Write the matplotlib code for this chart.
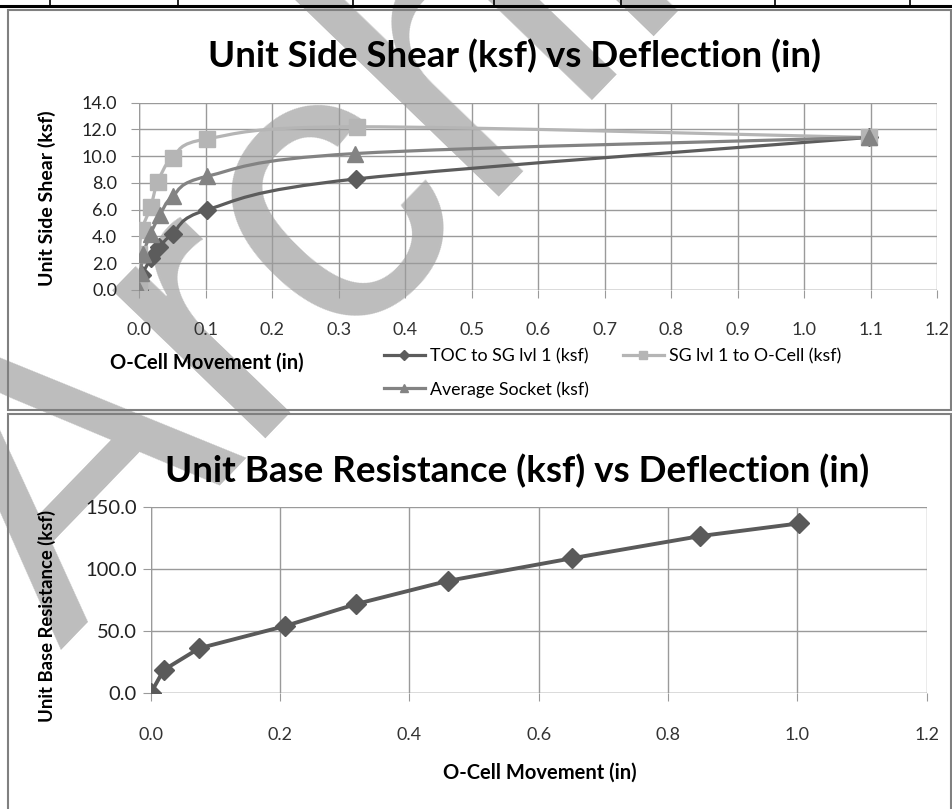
import numpy as np
import matplotlib
matplotlib.use("Agg")
import matplotlib.pyplot as plt
from matplotlib.path import Path
from matplotlib.patches import PathPatch, Rectangle
from matplotlib.lines import Line2D

# --- data --------------------------------------------------------------
toc_x = [0.0, 0.004, 0.018, 0.030, 0.050, 0.102, 0.326, 1.097]
toc_y = [0.0, 1.1, 2.4, 3.2, 4.2, 6.0, 8.3, 11.4]

sg_x = [0.0, 0.0, 0.004, 0.017, 0.028, 0.050, 0.102, 0.328, 1.097]
sg_y = [0.0, 2.7, 4.5, 6.2, 8.1, 9.9, 11.3, 12.2, 11.4]

avg_x = [0.0, 0.002, 0.006, 0.017, 0.031, 0.050, 0.102, 0.325, 1.097]
avg_y = [0.0, 1.3, 2.7, 4.2, 5.6, 7.0, 8.5, 10.2, 11.4]

base_x = [0.0, 0.020, 0.075, 0.208, 0.318, 0.459, 0.651, 0.850, 1.003]
base_y = [0.0, 18.7, 36.2, 54.1, 71.8, 90.3, 108.5, 126.4, 136.6]

top_title = "Unit Side Shear (ksf) vs Deflection (in)"
bot_title = "Unit Base Resistance (ksf) vs Deflection (in)"
xlabel = "O-Cell Movement (in)"
top_ylabel = "Unit Side Shear (ksf)"
bot_ylabel = "Unit Base Resistance (ksf)"
series_names = ["TOC to SG lvl 1 (ksf)", "SG lvl 1 to O-Cell (ksf)", "Average Socket (ksf)"]

W, H = 953, 809
FONT = "Lato"
NARROW = ["Liberation Sans Narrow", "Lato"]


def fx(px):
    return px / W


def fy(py):
    return 1 - py / H


def smooth_path(xs, ys):
    # Excel style smoothed line (Catmull-Rom -> Bezier)
    p = np.column_stack([xs, ys]).astype(float)
    n = len(p)
    verts = [p[0]]
    codes = [Path.MOVETO]
    for i in range(n - 1):
        p0 = p[max(i - 1, 0)]
        p1 = p[i]
        p2 = p[i + 1]
        p3 = p[min(i + 2, n - 1)]
        verts += [p1 + (p2 - p0) / 6, p2 - (p3 - p1) / 6, p2]
        codes += [Path.CURVE4] * 3
    return Path(verts, codes)


fig = plt.figure(figsize=(W / 100, H / 100), dpi=100)

# watermark, behind everything
fig.text(fx(60), fy(650), "Archive", rotation=46, rotation_mode="anchor",
         fontsize=290, family="Liberation Sans", color="#bdbdbd",
         ha="left", va="baseline", zorder=-10)

# table remnants / frames
fig.add_artist(Line2D([0, 1], [fy(5.5), fy(5.5)], color="black", lw=2.2))
for vx in [50, 178, 353, 494, 621, 775, 910]:
    fig.add_artist(Line2D([fx(vx), fx(vx)], [fy(0), fy(5)], color="black", lw=1.2))
fig.add_artist(Rectangle((fx(8), fy(410)), fx(943), 400 / H, fill=False,
                         edgecolor="#808080", lw=1.5))
fig.add_artist(Rectangle((fx(8), fy(812)), fx(943), 398 / H, fill=False,
                         edgecolor="#808080", lw=1.5))

grid_kw = dict(color="#9a9a9a", linewidth=1.0)

# ---------------- top chart ----------------
ax1 = fig.add_axes([fx(139.3), fy(290), fx(937) - fx(139.3), (290 - 102.7) / H])
ax1.patch.set_alpha(0)
styles = [
    (toc_x, toc_y, "#5c5c5c", "D", 9.5),
    (sg_x, sg_y, "#b5b5b5", "s", 11.5),
    (avg_x, avg_y, "#838383", "^", 11.5),
]
handles = []
for (xs, ys, c, m, ms), name in zip(styles, series_names):
    ax1.add_patch(PathPatch(smooth_path(xs, ys), fill=False, edgecolor=c, lw=2.3, zorder=3))
    ax1.plot(xs, ys, linestyle="none", marker=m, ms=ms, color=c, zorder=4)
    handles.append(Line2D([], [], color=c, lw=2.3, marker=m, ms=ms * 0.55, label=name))

ax1.set_xlim(0, 1.2)
ax1.set_ylim(0, 14)
ax1.set_xticks(np.arange(0, 1.21, 0.1))
ax1.set_yticks(np.arange(0, 14.1, 2))
ax1.set_xticklabels([f"{v:.1f}" for v in np.arange(0, 1.21, 0.1)])
ax1.set_yticklabels([f"{v:.1f}" for v in np.arange(0, 14.1, 2)])
ax1.grid(True, **grid_kw)
ax1.set_axisbelow(True)
for s in ax1.spines.values():
    s.set_visible(False)
ax1.axhline(0, **grid_kw, zorder=1)
ax1.axvline(0, **grid_kw, zorder=1)
ax1.tick_params(axis="x", length=6, color="#9a9a9a", pad=17, labelsize=13, labelcolor="#333333")
ax1.tick_params(axis="y", length=6, color="#9a9a9a", pad=10, labelsize=13, labelcolor="#222222")
for lab in ax1.get_xticklabels():
    lab.set_family(NARROW)
for lab in ax1.get_yticklabels():
    lab.set_family(FONT)

fig.text(fx(47), fy(198), top_ylabel, rotation=90, ha="center", va="center",
         fontsize=14, fontweight="bold", family=FONT)
fig.text(fx(207), fy(363), xlabel, ha="center", va="center",
         fontsize=14.5, fontweight="bold", family=NARROW)
fig.text(fx(514), fy(56), top_title, ha="center", va="center",
         fontsize=26.5, fontweight="bold", family=FONT)

leg = fig.legend(handles=[handles[0], handles[2], handles[1]], loc="upper left",
                 bbox_to_anchor=(fx(368), fy(332)), ncol=2, frameon=False,
                 prop={"family": NARROW, "size": 12.8}, handlelength=2.3,
                 handletextpad=0.3, columnspacing=1.9, labelspacing=0.95)

# ---------------- bottom chart ----------------
ax2 = fig.add_axes([fx(150.7), fy(693.3), fx(926.7) - fx(150.7), (693.3 - 506.7) / H])
ax2.patch.set_alpha(0)
ax2.plot(base_x, base_y, color="#5a5a5a", lw=2.8, marker="D", ms=10, zorder=4)
ax2.set_xlim(0, 1.2)
ax2.set_ylim(0, 150)
ax2.set_xticks(np.arange(0, 1.21, 0.2))
ax2.set_yticks([0, 50, 100, 150])
ax2.set_xticklabels([f"{v:.1f}" for v in np.arange(0, 1.21, 0.2)])
ax2.set_yticklabels([f"{v:.1f}" for v in [0, 50, 100, 150]])
ax2.grid(True, **grid_kw)
ax2.set_axisbelow(True)
for s in ax2.spines.values():
    s.set_visible(False)
ax2.axhline(0, **grid_kw, zorder=1)
ax2.axvline(0, **grid_kw, zorder=1)
ax2.tick_params(axis="x", length=6, color="#9a9a9a", pad=18, labelsize=13, labelcolor="#333333")
ax2.tick_params(axis="y", length=6, color="#9a9a9a", pad=4, labelsize=14.5, labelcolor="#222222")
for lab in ax2.get_xticklabels():
    lab.set_family(NARROW)
for lab in ax2.get_yticklabels():
    lab.set_family(FONT)

fig.text(fx(47), fy(616), bot_ylabel, rotation=90, ha="center", va="center",
         fontsize=13.3, fontweight="bold", family=FONT)
fig.text(fx(540), fy(773), xlabel, ha="center", va="center",
         fontsize=14.5, fontweight="bold", family=NARROW)
fig.text(fx(517), fy(471), bot_title, ha="center", va="center",
         fontsize=26.5, fontweight="bold", family=FONT)

fig.savefig("out.png", dpi=100)
